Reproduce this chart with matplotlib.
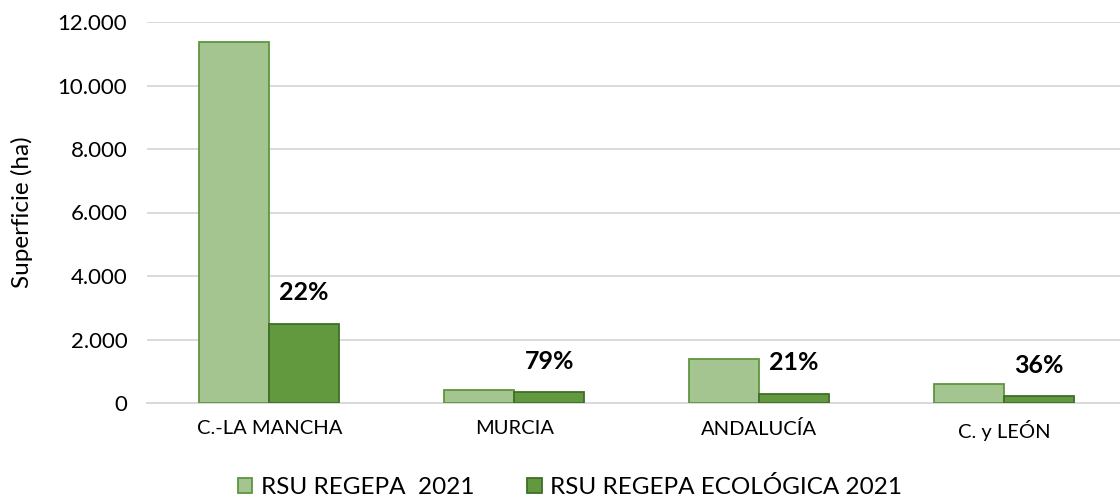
import matplotlib
matplotlib.use("Agg")
import matplotlib.pyplot as plt
from matplotlib.ticker import FuncFormatter, MultipleLocator
from matplotlib.patches import Patch
import numpy as np

# Superficie por comunidad autónoma (ha)
regiones = ["C.-LA MANCHA", "MURCIA", "ANDALUCÍA", "C. y LEÓN"]
rsu_regepa_2021 = [11380, 420, 1395, 608]
rsu_regepa_eco_2021 = [2500, 332, 293, 219]
series_labels = ["RSU REGEPA  2021", "RSU REGEPA ECOLÓGICA 2021"]

plt.rcParams["font.family"] = ["Lato", "DejaVu Sans"]

fig = plt.figure(figsize=(11.2, 4.99), dpi=100)
ax = fig.add_axes([146.7 / 1120, 1 - 403 / 499, 980 / 1120, 381 / 499])

light_fill, light_edge = "#a5c590", "#5e9640"
dark_fill, dark_edge = "#62993e", "#3f6e28"

x = np.arange(len(regiones))
w = 0.286
ax.bar(x - w / 2, rsu_regepa_2021, w, color=light_fill, edgecolor=light_edge,
       linewidth=1.3, zorder=3)
bars_eco = ax.bar(x + w / 2, rsu_regepa_eco_2021, w, color=dark_fill,
                  edgecolor=dark_edge, linewidth=1.3, zorder=3)

# Porcentaje ecológico sobre el total de cada región
for rect, total, eco in zip(bars_eco, rsu_regepa_2021, rsu_regepa_eco_2021):
    pct = 100 * eco / total
    ax.annotate(f"{pct:.0f}%", (rect.get_x() + rect.get_width() / 2, rect.get_height()),
                xytext=(0, 14), textcoords="offset points", ha="center", va="bottom",
                fontsize=18, fontweight="bold", color="black")

ax.set_xlim(-0.5, len(regiones) - 0.5)
ax.set_ylim(0, 12000)
ax.yaxis.set_major_locator(MultipleLocator(2000))
ax.yaxis.set_major_formatter(FuncFormatter(lambda v, p: f"{v:,.0f}".replace(",", ".")))
ax.set_xticks(x)
ax.set_xticklabels(regiones)

ax.grid(axis="y", color="#d9d9d9", linewidth=1.4, zorder=0)
for side in ["top", "right", "left"]:
    ax.spines[side].set_visible(False)
ax.spines["bottom"].set_color("#d9d9d9")
ax.spines["bottom"].set_linewidth(1.4)
ax.tick_params(axis="both", length=0, colors="#000000")
ax.tick_params(axis="y", pad=14, labelsize=16)
ax.tick_params(axis="x", pad=12, labelsize=14.5)

ax.set_ylabel("Superficie (ha)", fontsize=17.5)
ax.yaxis.set_label_coords(-114 / 980, 0.5)

handles = [Patch(facecolor=light_fill, edgecolor=light_edge, linewidth=1.3),
           Patch(facecolor=dark_fill, edgecolor=dark_edge, linewidth=1.3)]
fig.legend(handles, series_labels, loc="center", bbox_to_anchor=(570 / 1120, 1 - 487 / 499),
           ncol=2, frameon=False, fontsize=17.5, handlelength=0.58, handleheight=0.58,
           handletextpad=0.33, columnspacing=2.2)

fig.savefig("out.png", dpi=100)
